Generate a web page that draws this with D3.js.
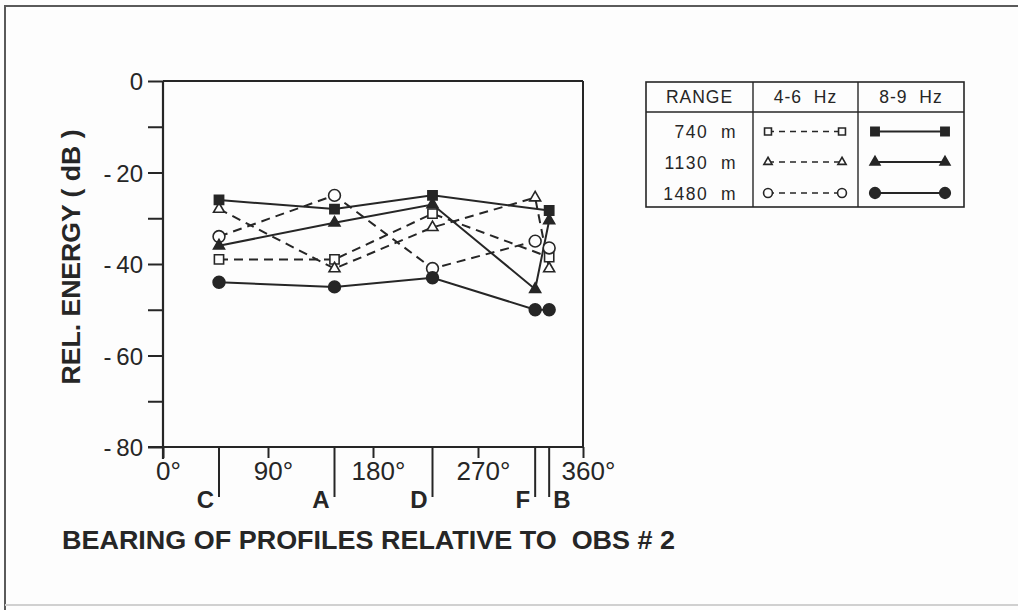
<!DOCTYPE html>
<html>
<head>
<meta charset="utf-8">
<script src="https://cdn.jsdelivr.net/npm/d3@7"></script>
<style>
  html, body { margin: 0; padding: 0; background: #fdfdfd; }
  svg { display: block; }
</style>
</head>
<body>
<svg id="chart" width="1018" height="610"></svg>
<script>
// Profile bearings (degrees) and their letters
const profiles = ["C", "A", "D", "F", "B"];
const bearings = [48, 147, 231, 319, 331];

// Axis ticks
const xTicks = [0, 90, 180, 270, 360];
const yTicks = [0, -10, -20, -30, -40, -50, -60, -70, -80];
const yLabelTicks = [0, -20, -40, -60, -80];

// Relative energy (dB) per profile; null = no measurement
const sq46  = [-39, -39, -29, null, -38.5];
const tri46 = [-28, -41, -32, -25.5, -41];
const cir46 = [-34, -25, -41, -35, -36.5];
const sq89  = [-26, -28, -25, null, -28.3];
const tri89 = [-36, -31, -27, -45.5, -30.5];
const cir89 = [-44, -45, -43, -50, -50];

// Legend text
const ranges = ["740 m", "1130 m", "1480 m"];
const bands = ["4-6 Hz", "8-9 Hz"];

const ink = "#262626";
const font = "'Liberation Sans', Arial, sans-serif";
const svg = d3.select("#chart");

// Page frame
svg.append("line").attr("x1", 4).attr("x2", 1018).attr("y1", 6).attr("y2", 6)
  .attr("stroke", "#5a5a5a").attr("stroke-width", 2);
svg.append("line").attr("x1", 5).attr("x2", 5).attr("y1", 6).attr("y2", 610)
  .attr("stroke", "#5a5a5a").attr("stroke-width", 2);
svg.append("line").attr("x1", 5).attr("x2", 1018).attr("y1", 605).attr("y2", 605)
  .attr("stroke", "#d0d0d0").attr("stroke-width", 2);

const x = d3.scaleLinear().domain([0, 360]).range([163, 583]);
const y = d3.scaleLinear().domain([-80, 0]).range([447, 81]);

const plot = svg.append("g");

// Plot box (top and right edges)
plot.append("line").attr("x1", x(0)).attr("x2", x(360)).attr("y1", y(0)).attr("y2", y(0))
  .attr("stroke", ink).attr("stroke-width", 2);
plot.append("line").attr("x1", x(360)).attr("x2", x(360)).attr("y1", y(0)).attr("y2", y(-80))
  .attr("stroke", ink).attr("stroke-width", 2);

// Y axis
const yAxis = d3.axisLeft(y).tickValues(yTicks).tickSize(15).tickPadding(5)
  .tickFormat(d => yLabelTicks.includes(d) ? (d === 0 ? "0" : "-\u2009" + Math.abs(d)) : "");
const gy = plot.append("g").attr("transform", `translate(${x(0)},0)`).call(yAxis);
gy.select(".domain").remove();
gy.append("line").attr("x1", 0).attr("x2", 0).attr("y1", y(0)).attr("y2", y(-80) + 12)
  .attr("stroke", ink).attr("stroke-width", 2.2);
gy.selectAll(".tick line").attr("stroke", ink).attr("stroke-width", 2);
gy.selectAll(".tick text").attr("fill", ink).attr("dy", "0.36em")
  .style("font-family", font).style("font-size", "24px");

// X axis
const xAxis = d3.axisBottom(x).tickValues(xTicks).tickSize(11).tickPadding(4)
  .tickFormat(d => d + "°");
const gx = plot.append("g").attr("transform", `translate(0,${y(-80)})`).call(xAxis);
gx.select(".domain").remove();
gx.append("line").attr("x1", x(0) - 15).attr("x2", x(360)).attr("y1", 0).attr("y2", 0)
  .attr("stroke", ink).attr("stroke-width", 2.2);
gx.selectAll(".tick line").attr("stroke", ink).attr("stroke-width", 2);
gx.selectAll(".tick text").attr("fill", ink).attr("dx", 5)
  .style("font-family", font).style("font-size", "26px");

// Profile markers along the bearing axis
const prof = plot.append("g");
profiles.forEach((p, i) => {
  const px = x(bearings[i]);
  prof.append("line").attr("x1", px).attr("x2", px).attr("y1", y(-80)).attr("y2", y(-80) + 50)
    .attr("stroke", ink).attr("stroke-width", 2);
  const last = i === profiles.length - 1;
  prof.append("text").text(p)
    .attr("x", last ? px + 4 : px - 5).attr("y", y(-80) + 61)
    .attr("text-anchor", last ? "start" : "end")
    .attr("fill", ink)
    .style("font-family", font)
    .style("font-weight", "bold").style("font-size", "24px");
});

// Axis titles
svg.append("text").text("REL. ENERGY ( dB )")
  .attr("transform", `translate(80,257) rotate(-90)`)
  .attr("text-anchor", "middle").attr("fill", ink)
  .attr("textLength", 255).attr("lengthAdjust", "spacingAndGlyphs")
  .style("font-family", font)
  .style("font-weight", "bold").style("font-size", "25px");

svg.append("text").text("BEARING OF PROFILES RELATIVE TO\u00a0 OBS # 2")
  .attr("x", 62).attr("y", 549).attr("fill", ink)
  .attr("textLength", 613).attr("lengthAdjust", "spacingAndGlyphs")
  .style("font-family", font)
  .style("font-weight", "bold").style("font-size", "25px");

// Series definitions
const series = [
  { v: sq46,  shape: "square",   filled: false, dashed: true },
  { v: tri46, shape: "triangle", filled: false, dashed: true },
  { v: cir46, shape: "circle",   filled: false, dashed: true },
  { v: sq89,  shape: "square",   filled: true,  dashed: false },
  { v: tri89, shape: "triangle", filled: true,  dashed: false },
  { v: cir89, shape: "circle",   filled: true,  dashed: false }
];

const symType = { square: d3.symbolSquare, triangle: d3.symbolTriangle, circle: d3.symbolCircle };
const symSize = { square: 85, triangle: 52, circle: 110 };

function drawMarker(g, shape, filled, cx, cy, scale) {
  g.append("path")
    .attr("d", d3.symbol().type(symType[shape]).size(symSize[shape] * scale * scale)())
    .attr("transform", `translate(${cx},${cy})`)
    .attr("fill", filled ? ink : "#fdfdfd")
    .attr("stroke", ink).attr("stroke-width", 1.6);
}

const line = d3.line().x(d => x(d.b)).y(d => y(d.v));
const marks = plot.append("g");

series.forEach(s => {
  const pts = s.v.map((v, i) => ({ b: bearings[i], v })).filter(d => d.v !== null);
  marks.append("path").datum(pts).attr("d", line)
    .attr("fill", "none").attr("stroke", ink).attr("stroke-width", 2)
    .attr("stroke-dasharray", s.dashed ? "9,6" : null);
});
series.forEach(s => {
  s.v.forEach((v, i) => {
    if (v !== null) drawMarker(marks, s.shape, s.filled, x(bearings[i]), y(v), 1);
  });
});

// Legend table
const lg = svg.append("g");
const L = { x0: 646, x1: 964, y0: 82, y1: 207, hy: 112, c1: 753, c2: 858 };
lg.append("rect").attr("x", L.x0).attr("y", L.y0).attr("width", L.x1 - L.x0).attr("height", L.y1 - L.y0)
  .attr("fill", "none").attr("stroke", ink).attr("stroke-width", 1.6);
lg.append("line").attr("x1", L.x0).attr("x2", L.x1).attr("y1", L.hy).attr("y2", L.hy)
  .attr("stroke", ink).attr("stroke-width", 1.4);
[L.c1, L.c2].forEach(cx => lg.append("line").attr("x1", cx).attr("x2", cx).attr("y1", L.y0).attr("y2", L.y1)
  .attr("stroke", ink).attr("stroke-width", 1.4));

const headers = ["RANGE"].concat(bands);
const headerX = [(L.x0 + L.c1) / 2, (L.c1 + L.c2) / 2, (L.c2 + L.x1) / 2];
headers.forEach((h, i) => lg.append("text").text(h.replace(" ", "\u00a0 "))
  .attr("x", headerX[i]).attr("y", 103).attr("text-anchor", "middle").attr("fill", ink)
  .style("font-family", font).style("font-size", "17.5px").style("letter-spacing", "1px"));

const rowY = [131.5, 162, 193];
const shapes = ["square", "triangle", "circle"];
ranges.forEach((r, i) => {
  lg.append("text").text(r.replace(" ", "\u00a0 ")).attr("x", 737).attr("y", rowY[i] + 6.5)
    .attr("text-anchor", "end").attr("fill", ink)
    .style("font-family", font).style("font-size", "17.5px").style("letter-spacing", "1.5px");
  // 4-6 Hz sample: dashed, open markers
  lg.append("line").attr("x1", 768).attr("x2", 842).attr("y1", rowY[i]).attr("y2", rowY[i])
    .attr("stroke", ink).attr("stroke-width", 1.5).attr("stroke-dasharray", "6,5");
  drawMarker(lg, shapes[i], false, 768, rowY[i], 0.75);
  drawMarker(lg, shapes[i], false, 842, rowY[i], 0.75);
  // 8-9 Hz sample: solid, filled markers
  lg.append("line").attr("x1", 875).attr("x2", 945).attr("y1", rowY[i]).attr("y2", rowY[i])
    .attr("stroke", ink).attr("stroke-width", 1.8);
  drawMarker(lg, shapes[i], true, 875, rowY[i], 0.9);
  drawMarker(lg, shapes[i], true, 945, rowY[i], 0.9);
});
</script>
</body>
</html>
